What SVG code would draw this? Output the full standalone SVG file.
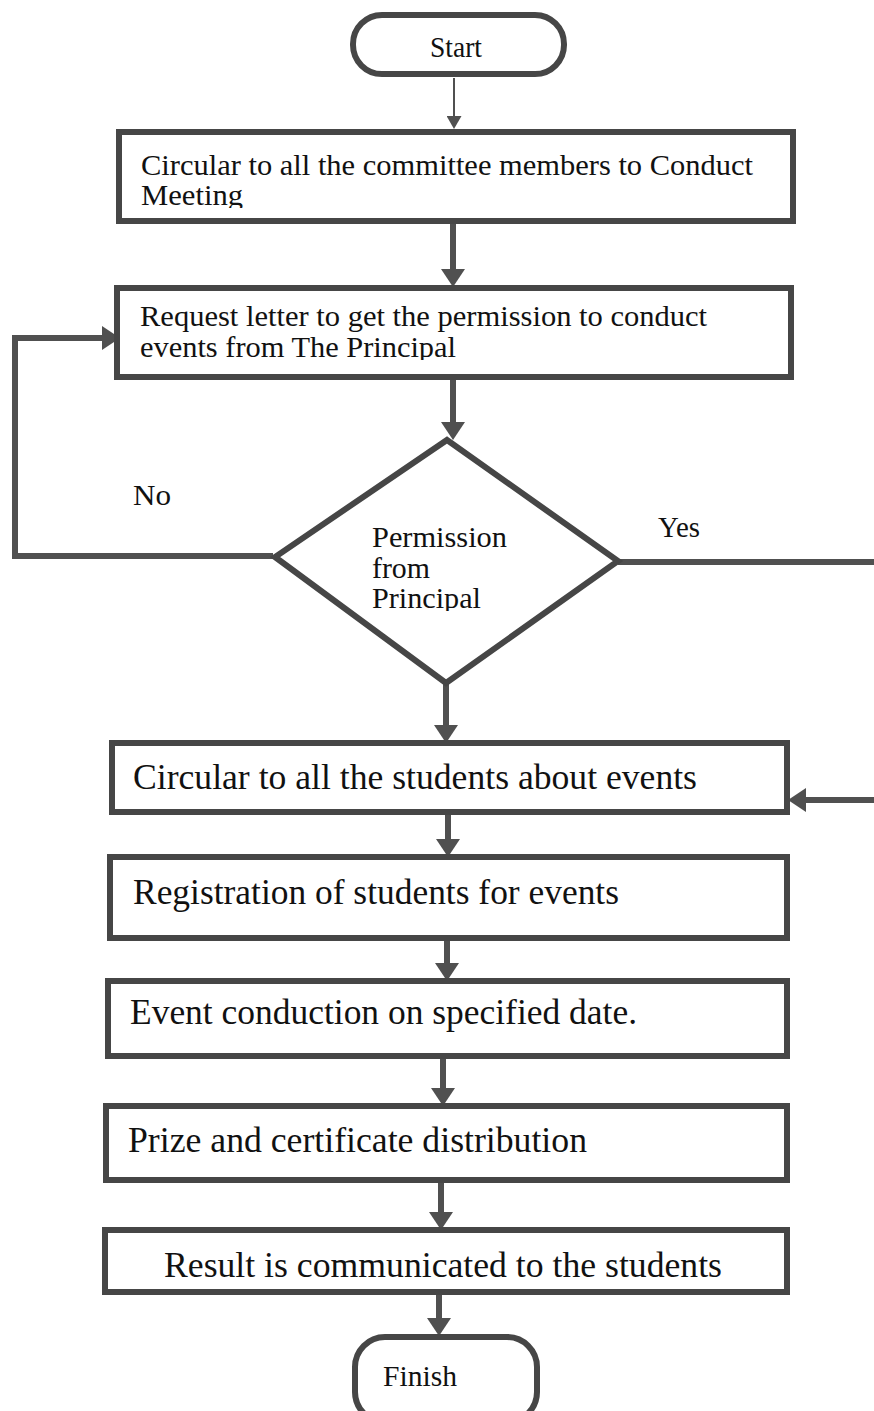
<svg xmlns="http://www.w3.org/2000/svg" width="874" height="1411" viewBox="0 0 874 1411">
<style>
.box{fill:#fff;stroke:#464646;stroke-width:6}
.term{fill:#fff;stroke:#464646;stroke-width:6}
.t{font-family:"Liberation Serif","Times New Roman",serif;font-size:30px;fill:#111}
.tl{font-family:"Liberation Serif","Times New Roman",serif;font-size:35px;fill:#111}
.c{fill:none;stroke:#505050;stroke-width:6}
.thin{fill:none;stroke:#505050;stroke-width:2}
</style>
<defs>
<marker id="ah" markerUnits="userSpaceOnUse" viewBox="0 0 18 24" refX="6" refY="12" markerWidth="18" markerHeight="24" orient="auto">
<path d="M0,0 L18,12 L0,24 z" fill="#505050"/>
</marker>
<marker id="ahs" markerUnits="userSpaceOnUse" viewBox="0 0 13 15" refX="3" refY="7.5" markerWidth="13" markerHeight="15" orient="auto">
<path d="M0,0 L13,7.5 L0,15 z" fill="#505050"/>
</marker>
<clipPath id="clip1"><rect x="120" y="140" width="660" height="68"/></clipPath>
<clipPath id="clip2"><rect x="120" y="295" width="660" height="65"/></clipPath>
<clipPath id="clip3"><rect x="300" y="440" width="300" height="171"/></clipPath>
</defs>

<g id="connectors">
<path class="thin" d="M454,78 L454,119" marker-end="url(#ahs)"/>
<path class="c" d="M453,224 L453,275" marker-end="url(#ah)"/>
<path class="c" d="M453,380 L453,428" marker-end="url(#ah)"/>
<path class="c" d="M273,556 L15,556 L15,338 L108,338" marker-end="url(#ah)"/>
<path class="c" d="M618,562 L874,562"/>
<path class="c" d="M874,800 L800,800" marker-end="url(#ah)"/>
<path class="c" d="M446,683 L446,731" marker-end="url(#ah)"/>
<path class="c" d="M448,815 L448,845" marker-end="url(#ah)"/>
<path class="c" d="M447,941 L447,969" marker-end="url(#ah)"/>
<path class="c" d="M443,1059 L443,1094" marker-end="url(#ah)"/>
<path class="c" d="M441,1183 L441,1218" marker-end="url(#ah)"/>
<path class="c" d="M439,1295 L439,1324" marker-end="url(#ah)"/>
<text class="t" x="133" y="505" textLength="38" lengthAdjust="spacingAndGlyphs">No</text>
<text class="t" x="658" y="537" textLength="42" lengthAdjust="spacingAndGlyphs">Yes</text>
</g>

<g id="start">
<rect class="term" x="353" y="15" width="211" height="59" rx="29" ry="29"/>
<text class="t" x="456" y="57" text-anchor="middle" textLength="52" lengthAdjust="spacingAndGlyphs">Start</text>
</g>

<g id="box1">
<rect class="box" x="119" y="132" width="674" height="89"/>
<text class="t" x="141" y="175" textLength="612" lengthAdjust="spacingAndGlyphs">Circular to all the committee members to Conduct</text>
<text class="t" x="141" y="205" textLength="102" lengthAdjust="spacingAndGlyphs" clip-path="url(#clip1)">Meeting</text>
</g>

<g id="box2">
<rect class="box" x="117" y="288" width="674" height="89"/>
<text class="t" x="140" y="326" textLength="567" lengthAdjust="spacingAndGlyphs">Request letter to get the permission to conduct</text>
<text class="t" x="140" y="357" textLength="316" lengthAdjust="spacingAndGlyphs" clip-path="url(#clip2)">events from The Principal</text>
</g>

<g id="decision">
<polygon class="box" points="447,440 618,561 446,683 275,557"/>
<text class="t" x="372" y="547" textLength="135" lengthAdjust="spacingAndGlyphs">Permission</text>
<text class="t" x="372" y="578" textLength="58" lengthAdjust="spacingAndGlyphs">from</text>
<text class="t" x="372" y="608" textLength="109" lengthAdjust="spacingAndGlyphs" clip-path="url(#clip3)">Principal</text>
</g>

<g id="box3">
<rect class="box" x="112" y="743" width="675" height="69"/>
<text class="tl" x="133" y="789" textLength="564" lengthAdjust="spacingAndGlyphs">Circular to all the students about events</text>
</g>

<g id="box4">
<rect class="box" x="110" y="857" width="677" height="81"/>
<text class="tl" x="133" y="904" textLength="486" lengthAdjust="spacingAndGlyphs">Registration of students for events</text>
</g>

<g id="box5">
<rect class="box" x="108" y="981" width="679" height="75"/>
<text class="tl" x="130" y="1024" textLength="507" lengthAdjust="spacingAndGlyphs">Event conduction on specified date.</text>
</g>

<g id="box6">
<rect class="box" x="106" y="1106" width="681" height="74"/>
<text class="tl" x="128" y="1152" textLength="459" lengthAdjust="spacingAndGlyphs">Prize and certificate distribution</text>
</g>

<g id="box7">
<rect class="box" x="105" y="1230" width="682" height="62"/>
<text class="tl" x="164" y="1277" textLength="558" lengthAdjust="spacingAndGlyphs">Result is communicated to the students</text>
</g>

<g id="finish">
<rect class="term" x="355" y="1337" width="182" height="85" rx="30" ry="30"/>
<text class="t" x="420" y="1386" text-anchor="middle" textLength="74" lengthAdjust="spacingAndGlyphs">Finish</text>
</g>
</svg>
